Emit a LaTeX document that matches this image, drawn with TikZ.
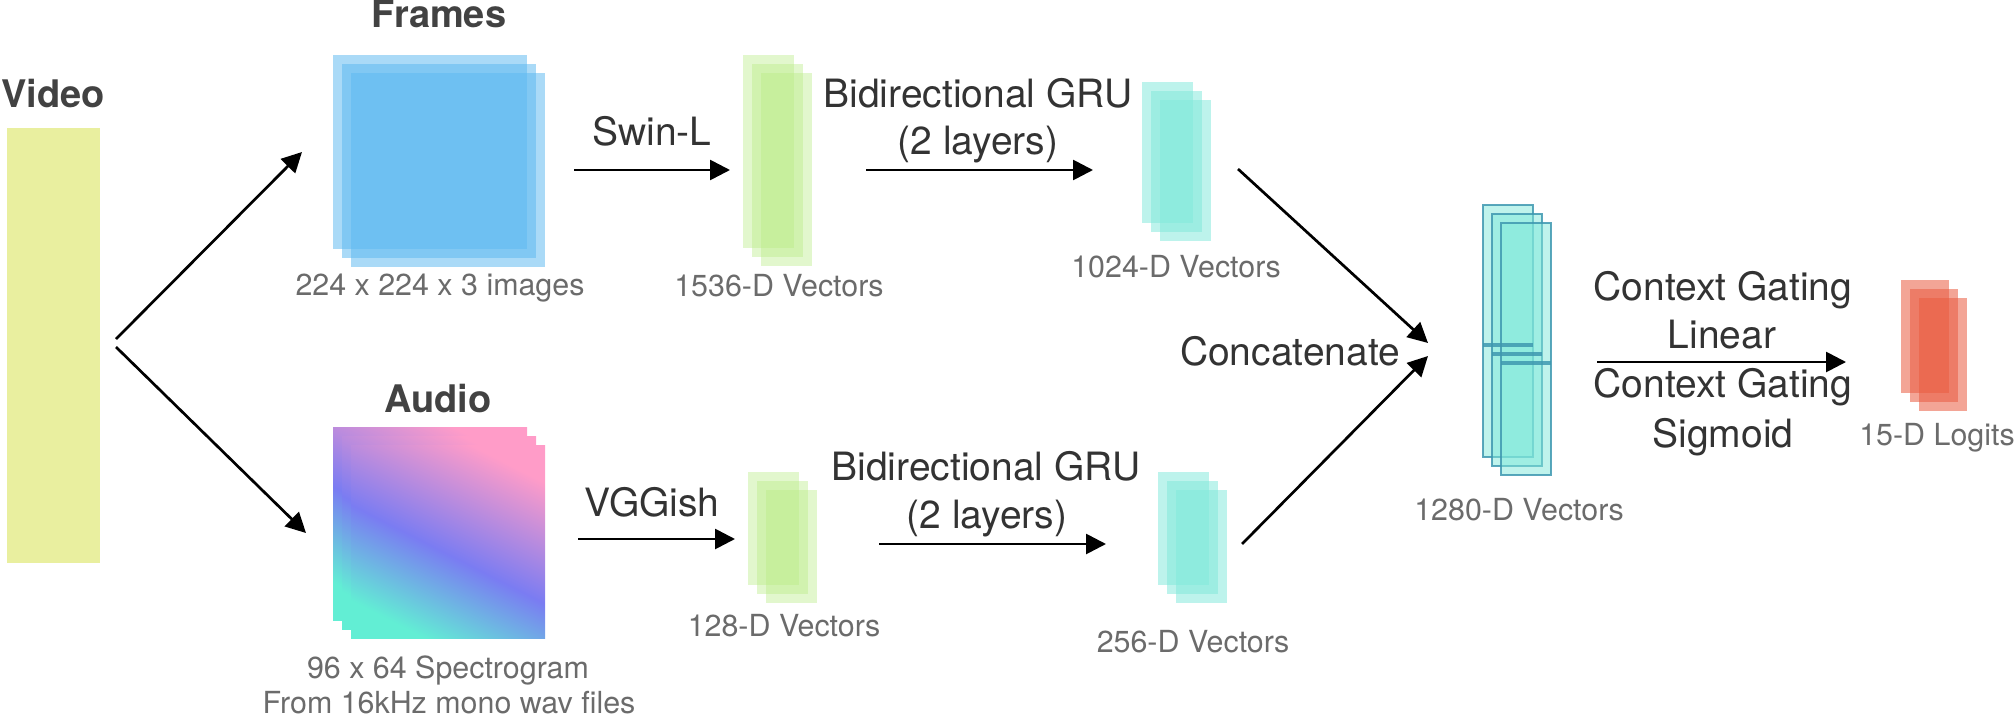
\documentclass[tikz,border=0pt]{standalone}
\usepackage{fontspec}
\setmainfont{TeX Gyre Heros}
\usetikzlibrary{arrows.meta}
\definecolor{yellowc}{HTML}{E9EF9F}
\definecolor{framec}{HTML}{5CB8F0}
\definecolor{greenc}{HTML}{B7EB82}
\definecolor{tealc}{HTML}{80E8DA}
\definecolor{strokec}{HTML}{3E98B0}
\definecolor{logitc}{HTML}{E95B40}
\definecolor{pinkc}{HTML}{FF9CC8}
\definecolor{bluec}{HTML}{7A7CF2}
\definecolor{aquac}{HTML}{62EED4}
\definecolor{opc}{HTML}{333333}
\definecolor{lblc}{HTML}{6B6B6B}
\definecolor{ttlc}{HTML}{424242}
\pgfdeclareverticalshading{specshade}{100bp}{color(0bp)=(aquac); color(25bp)=(aquac); color(47bp)=(bluec); color(75bp)=(pinkc); color(100bp)=(pinkc)}
\tikzset{
  op/.style={font=\fontsize{19.5}{23}\selectfont, text=opc, anchor=base, inner sep=0pt},
  lbl/.style={font=\fontsize{15.2}{18}\selectfont, text=lblc, anchor=base, inner sep=0pt},
  ttl/.style={font=\bfseries\fontsize{19}{23}\selectfont, text=ttlc, anchor=base, inner sep=0pt},
  arr/.style={-{Triangle[length=10pt,width=10pt]}, line width=1.35pt, black},
  layer/.style={anchor=north west, inner sep=0pt, outer sep=0pt},
  vidbox/.style={layer, minimum width=46.5pt, minimum height=217.5pt, fill=yellowc},
  frbox/.style={layer, minimum width=97pt, minimum height=97pt, fill=framec, fill opacity=0.52},
  aubox/.style={layer, minimum width=97pt, minimum height=96.5pt, shading=specshade, shading angle=-27},
  gbig/.style={layer, minimum width=25.5pt, minimum height=96.5pt, fill=greenc, fill opacity=0.4},
  gsmall/.style={layer, minimum width=25.5pt, minimum height=56.5pt, fill=greenc, fill opacity=0.4},
  tbig/.style={layer, minimum width=25.5pt, minimum height=70.5pt, fill=tealc, fill opacity=0.52},
  tsmall/.style={layer, minimum width=25.5pt, minimum height=56.5pt, fill=tealc, fill opacity=0.52},
  catbox/.style={layer, minimum width=25pt, minimum height=126pt, fill=tealc, fill opacity=0.5, draw=strokec, draw opacity=0.85, line width=1pt},
  divider/.style={draw=strokec, draw opacity=0.85, line width=2pt},
  lgbox/.style={layer, minimum width=24pt, minimum height=56.5pt, fill=logitc, fill opacity=0.55},
}
\begin{document}
\begin{tikzpicture}[x=0.5pt,y=-0.5pt]
\useasboundingbox (0,0) rectangle (2016,717);

% Video
\node[vidbox] (video) at (7,128) {};
\node[ttl] (tvideo) at (53,107) {Video};

% Frames stack
\node[frbox] (fr1) at (333,55) {};
\node[frbox] (fr2) at (342,64) {};
\node[frbox] (fr3) at (351,73) {};
\node[ttl] (tframes) at (439,28) {Frames};
\node[lbl] (lframes) at (440,295) {224 x 224 x 3 images};

% Audio stack
\node[aubox] (au1) at (333,427) {};
\node[aubox] (au2) at (342,436) {};
\node[aubox] (au3) at (351,445) {};
\node[ttl] (taudio) at (438,412) {Audio};
\node[lbl] (laudio1) at (448,678) {96 x 64 Spectrogram};
\node[lbl] (laudio2) at (449,713) {From 16kHz mono wav files};

% 1536-D
\node[gbig] (g1) at (743,55) {};
\node[gbig] (g2) at (752,64) {};
\node[gbig] (g3) at (761,73) {};
\node[lbl] (lg) at (779,296) {1536-D Vectors};

% 128-D
\node[gsmall] (h1) at (748,472) {};
\node[gsmall] (h2) at (757,481) {};
\node[gsmall] (h3) at (766,490) {};
\node[lbl] (lh) at (784,636) {128-D Vectors};

% 1024-D
\node[tbig] (t1) at (1142,82) {};
\node[tbig] (t2) at (1151,91) {};
\node[tbig] (t3) at (1160,100) {};
\node[lbl] (lt) at (1176,277) {1024-D Vectors};

% 256-D
\node[tsmall] (s1) at (1158,472) {};
\node[tsmall] (s2) at (1167,481) {};
\node[tsmall] (s3) at (1176,490) {};
\node[lbl] (ls) at (1193,652) {256-D Vectors};

% 1280-D
\node[catbox] (c1) at (1483,205) {};
\node[catbox] (c2) at (1492,214) {};
\node[catbox] (c3) at (1501,223) {};
\draw[divider] ([yshift=-70pt]c1.north west) -- ([yshift=-70pt]c1.north east);
\draw[divider] ([yshift=-70pt]c2.north west) -- ([yshift=-70pt]c2.north east);
\draw[divider] ([yshift=-70pt]c3.north west) -- ([yshift=-70pt]c3.north east);
\node[lbl] (lc) at (1519,520) {1280-D Vectors};

% Logits
\node[lgbox] (o1) at (1901,280) {};
\node[lgbox] (o2) at (1910,289) {};
\node[lgbox] (o3) at (1919,298) {};
\node[lbl] (lo) at (1937,445) {15-D Logits};

% operation labels
\node[op] (swin) at (652,145) {Swin-L};
\node[op] (vgg) at (652,516) {VGGish};
\node[op] (gru1a) at (978,107) {Bidirectional GRU};
\node[op] (gru1b) at (978,155) {(2 layers)};
\node[op] (gru2a) at (986,480) {Bidirectional GRU};
\node[op] (gru2b) at (987,528) {(2 layers)};
\node[op] (concat) at (1290,365) {Concatenate};
\node[op] (cg1) at (1723,300) {Context Gating};
\node[op] (cg2) at (1722,348) {Linear};
\node[op] (cg3) at (1723,397) {Context Gating};
\node[op] (cg4) at (1723,447) {Sigmoid};

% arrow end points
\coordinate (vu) at (116,339);
\coordinate (vd) at (116,347);
\coordinate (frin) at (302,152);
\coordinate (auin) at (306,533);
\coordinate (swS) at (574,170);
\coordinate (swE) at (730,170);
\coordinate (vgS) at (578,539);
\coordinate (vgE) at (735,539);
\coordinate (gaS) at (866,170);
\coordinate (gaE) at (1093,170);
\coordinate (gbS) at (879,544);
\coordinate (gbE) at (1106,544);
\coordinate (caS) at (1238,169);
\coordinate (caE) at (1428,343);
\coordinate (cbS) at (1242,544);
\coordinate (cbE) at (1428,356);
\coordinate (cgS) at (1597,362);
\coordinate (cgE) at (1846,362);

\draw[arr] (vu) -- (frin);
\draw[arr] (vd) -- (auin);
\draw[arr] (swS) -- (swE);
\draw[arr] (vgS) -- (vgE);
\draw[arr] (gaS) -- (gaE);
\draw[arr] (gbS) -- (gbE);
\draw[arr] (caS) -- (caE);
\draw[arr] (cbS) -- (cbE);
\draw[arr] (cgS) -- (cgE);
\end{tikzpicture}
\end{document}
